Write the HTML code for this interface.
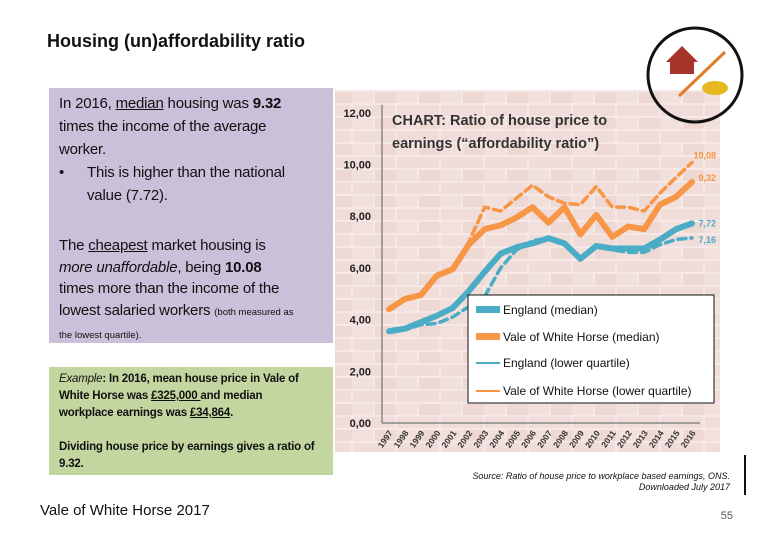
<!DOCTYPE html>
<html><head><meta charset="utf-8">
<style>
body{margin:0;width:780px;height:540px;background:#fff;position:relative;overflow:hidden;font-family:"Liberation Sans",sans-serif}
.abs{position:absolute}
#title{left:47px;top:31px;font-size:18px;font-weight:bold;color:#111}
#purple{left:49px;top:88px;width:284px;height:255px;background:#cbc0da}
#green{left:49px;top:367px;width:284px;height:108px;background:#c4d6a0}
.p{position:absolute;left:10px;color:#111;white-space:nowrap}
#footer{left:40px;top:502px;font-size:15px;color:#111}
</style></head><body>
<div id="title" class="abs">Housing (un)affordability ratio</div>
<div id="purple" class="abs">
 <div class="p" style="top:4px;font-size:15px;line-height:23px;letter-spacing:-0.2px">In 2016, <u>median</u> housing was <b>9.32</b><br>times the income of the average<br>worker.</div>
 <div class="p" style="top:73px;font-size:15px;line-height:23px;letter-spacing:-0.2px"><span style="display:inline-block;width:28px">•</span>This is higher than the national<br><span style="padding-left:28px">value (7.72).</span></div>
 <div class="p" style="top:147px;font-size:15px;line-height:21.5px;letter-spacing:-0.2px">The <u>cheapest</u> market housing is<br><i>more unaffordable</i>, being <b>10.08</b><br>times more than the income of the<br>lowest salaried workers <span style="font-size:9.5px;letter-spacing:0">(both measured as</span><br><span style="font-size:9.5px;letter-spacing:0;line-height:14px;display:inline-block">the lowest quartile).</span></div>
</div>
<div id="green" class="abs">
 <div class="p" style="top:4px;font-size:11.5px;line-height:17px;font-weight:bold;letter-spacing:-0.2px"><i style="font-weight:normal">Example</i>: In 2016, mean house price in Vale of<br>White Horse was <u>£325,000 </u>and median<br>workplace earnings was <u>£34,864</u>.</div>
 <div class="p" style="top:72px;font-size:11.5px;line-height:17px;font-weight:bold;letter-spacing:-0.2px">Dividing house price by earnings gives a ratio of<br>9.32.</div>
</div>
<div id="footer" class="abs">Vale of White Horse 2017</div>
<svg class="abs" style="left:0;top:0" width="780" height="540">
<defs><pattern id="brick" width="44" height="26" patternUnits="userSpaceOnUse">
<rect width="44" height="26" fill="#f6e8e6"/>
<rect x="1" y="1" width="42" height="11" fill="#f0dcd8"/>
<rect x="-21" y="14" width="42" height="11" fill="#f2e0dc"/>
<rect x="23" y="14" width="42" height="11" fill="#eed8d3"/>
</pattern></defs>
<rect x="335" y="90" width="385" height="362" fill="url(#brick)"/>
<circle cx="695" cy="75" r="47" fill="none" stroke="#111" stroke-width="3"/>
<path d="M666 62 L682 46 L698 62 Z M670 62 h24 v12 h-24 Z" fill="#a5352a"/>
<line x1="679" y1="96" x2="725" y2="52" stroke="#e07d2a" stroke-width="3"/>
<ellipse cx="715" cy="88" rx="13" ry="7" fill="#e8b820"/>
<line x1="745" y1="455" x2="745" y2="495" stroke="#111" stroke-width="2"/>
<g id="axes"></g><g id="series"></g>
<text x="392" y="125" font-size="14.5" font-weight="bold" fill="#333">CHART: Ratio of house price to</text>
<text x="392" y="148" font-size="14.5" font-weight="bold" fill="#333">earnings (“affordability ratio”)</text>
<g>
<rect x="468" y="295" width="246" height="108" fill="#fff" stroke="#111"/>
<rect x="476" y="306" width="24" height="7" fill="#4bacc6"/><text x="503" y="314" font-size="12" fill="#111">England (median)</text>
<rect x="476" y="333" width="24" height="7" fill="#f79646"/><text x="503" y="341" font-size="12" fill="#111">Vale of White Horse (median)</text>
<line x1="476" y1="363" x2="500" y2="363" stroke="#4bacc6" stroke-width="2"/><text x="503" y="367" font-size="12" fill="#111">England (lower quartile)</text>
<line x1="476" y1="391" x2="500" y2="391" stroke="#f79646" stroke-width="2"/><text x="503" y="395" font-size="12" fill="#111">Vale of White Horse (lower quartile)</text>
</g>
<text x="730" y="479" font-size="9" font-style="italic" text-anchor="end" fill="#111">Source: Ratio of house price to workplace based earnings, ONS.</text>
<text x="730" y="490" font-size="9" font-style="italic" text-anchor="end" fill="#111">Downloaded July 2017</text>
<text x="733" y="519" font-size="11" text-anchor="end" fill="#555">55</text>
</svg>
<script>
const years=[1997,1998,1999,2000,2001,2002,2003,2004,2005,2006,2007,2008,2009,2010,2011,2012,2013,2014,2015,2016];
const englandMedian=[3.55,3.65,3.9,4.15,4.45,5.1,5.85,6.55,6.8,6.95,7.15,6.95,6.35,6.85,6.75,6.75,6.75,7.1,7.5,7.72];
const valeMedian=[4.4,4.8,4.95,5.7,5.95,6.9,7.5,7.65,7.95,8.35,7.75,8.35,7.3,8.05,7.2,7.6,7.5,8.45,8.75,9.32];
const englandLQ=[3.55,3.6,3.8,3.85,4.1,4.5,4.9,6.0,6.7,7.05,7.15,6.95,6.4,6.85,6.7,6.6,6.6,6.9,7.1,7.16];
const valeLQ=[4.4,4.8,5.0,5.7,5.95,7.0,8.35,8.2,8.7,9.2,8.75,8.5,8.45,9.15,8.35,8.35,8.2,8.9,9.5,10.08];
const yTicks=[0,2,4,6,8,10,12];
const NS='http://www.w3.org/2000/svg';
const x=i=>389+i*(692-389)/(years.length-1);
const y=v=>423-v*25.85;
function mk(t,a,p){const e=document.createElementNS(NS,t);for(const k in a)e.setAttribute(k,a[k]);p.appendChild(e);return e;}
const ax=document.getElementById('axes'),sg=document.getElementById('series');
const yl=mk('line',{x1:382,y1:y(12)-8,x2:382,y2:y(0),stroke:'#888','stroke-width':1.5},ax);


const xl=mk('line',{x1:382,y1:y(0),x2:700,y2:y(0),stroke:'#888','stroke-width':1.5},ax);


yTicks.forEach(v=>{const t=mk('text',{x:371,y:y(v)+4,'font-size':11,'font-weight':'bold','text-anchor':'end',fill:'#222'},ax);t.textContent=v.toFixed(2).replace('.',',');

});
years.forEach((yr,i)=>{const t=mk('text',{x:x(i)+4,y:y(0)+10,'font-size':8.5,'font-weight':'bold','text-anchor':'end',fill:'#333',transform:`rotate(-55 ${x(i)+4} ${y(0)+10})`},ax);t.textContent=yr;

});
function line(d,c,w,dash,name){const p=mk('polyline',{points:d.map((v,i)=>x(i)+','+y(v)).join(' '),fill:'none',stroke:c,'stroke-width':w,'stroke-linejoin':'round','stroke-linecap':'round'},sg);if(dash)p.setAttribute('stroke-dasharray',dash);

}
line(englandLQ,'#4bacc6',3.5,'8 5','england-lq-line');
line(valeLQ,'#f79646',3.5,'8 5','vale-lq-line');
line(englandMedian,'#4bacc6',6,null,'england-median-line');
line(valeMedian,'#f79646',6,null,'vale-median-line');
function lab(v,c,dy,name){const t=mk('text',{x:716,y:y(v)+dy,'font-size':9,'font-weight':'bold','text-anchor':'end',fill:c},sg);t.textContent=v.toFixed(2).replace('.',',');

}
lab(valeLQ[19],'#f79646',-4,'label-vale-lq');
lab(valeMedian[19],'#f79646',-1,'label-vale-median');
lab(englandMedian[19],'#4bacc6',3,'label-england-median');
lab(englandLQ[19],'#4bacc6',5,'label-england-lq');
</script>
</body></html>
